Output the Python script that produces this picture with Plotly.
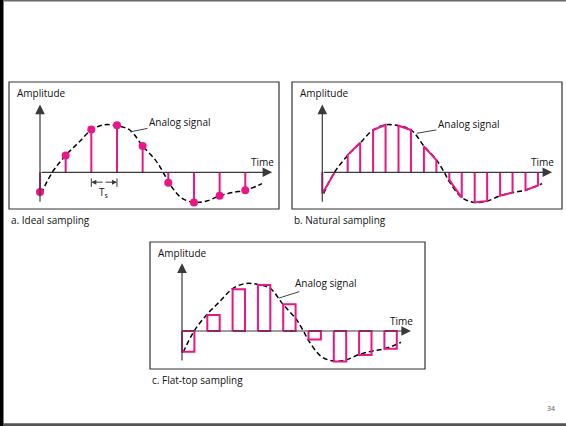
import plotly.graph_objects as go

# ---------------- data (time in sampling periods Ts, amplitude normalized) ----------------
analog_t = [0.05, 0.48, 1.0, 1.5, 2.0, 2.5, 3.0, 3.5, 4.0, 4.5, 4.8, 5.0, 5.5, 6.0, 6.5, 7.0, 7.5, 8.0, 8.5, 8.65]
analog_v = [-0.45, 0.0, 0.36, 0.63, 0.90, 1.01, 0.99, 0.90, 0.56, 0.26, 0.0, -0.20, -0.54, -0.64, -0.61, -0.50, -0.43, -0.38, -0.28, -0.24]

sample_t = [0, 1, 2, 3, 4, 5, 6, 7, 8]
ideal_v = [-0.42, 0.36, 0.91, 1.00, 0.56, -0.22, -0.64, -0.50, -0.38]
flat_v = [-0.44, 0.34, 0.89, 0.98, 0.57, -0.18, -0.65, -0.51, -0.38]
natural_start_v = [-0.45, 0.37, 0.90, 0.99, 0.55, -0.16, -0.64, -0.50, -0.38]
natural_end_v = [0.0, 0.63, 1.01, 0.90, 0.26, -0.54, -0.61, -0.43, -0.28]
pulse_width = 0.49

panel_titles = ["a. Ideal sampling", "b. Natural sampling", "c. Flat-top sampling"]

# ---------------- layout constants (pixels) ----------------
W, H = 566, 426
PINK = "#EA1586"
AXC = "#3a3a3a"
FONT = "Open Sans"

# box (x0, y0, x1, y1), origin px (ox, oy), px per Ts
panels = [
    dict(box=(9, 82, 279, 209), origin=(40, 172.3), sx=25.66),
    dict(box=(292, 82, 562, 209), origin=(322.3, 172.3), sx=25.4),
    dict(box=(150, 242, 425, 369), origin=(182, 331), sx=25.3),
]
SY = 47.0

fig = go.Figure()
layout_axes = {}
shapes = []
annotations = []

def px(x):
    return x / W

def py(y):
    return 1 - y / H

for i, p in enumerate(panels):
    x0, y0, x1, y1 = p["box"]
    ox, oy = p["origin"]
    sx = p["sx"]
    sfx = "" if i == 0 else str(i + 1)
    layout_axes["xaxis" + sfx] = dict(domain=[px(x0), px(x1)], range=[(x0 - ox) / sx, (x1 - ox) / sx],
                                      visible=False, fixedrange=True, anchor="y" + sfx)
    layout_axes["yaxis" + sfx] = dict(domain=[py(y1), py(y0)], range=[(oy - y1) / SY, (oy - y0) / SY],
                                      visible=False, fixedrange=True, anchor="x" + sfx)
    shapes.append(dict(type="rect", xref="paper", yref="paper", x0=px(x0), x1=px(x1), y0=py(y1), y1=py(y0),
                       line=dict(color="#333333", width=1.2)))
    xr, yr = "x" + sfx, "y" + sfx

    # analog dashed curve
    fig.add_trace(go.Scatter(x=analog_t, y=analog_v, mode="lines", xaxis=xr, yaxis=yr,
                             line=dict(color="black", width=1.5, dash="5px,3px", shape="spline", smoothing=1.0),
                             hoverinfo="skip", showlegend=False))

    # axes with arrows
    annotations.append(dict(x=0, y=1.44, ax=0, ay=-0.66, xref=xr, yref=yr, axref=xr, ayref=yr, text="",
                            showarrow=True, arrowhead=2, arrowsize=1.6, arrowwidth=1.2, arrowcolor=AXC))
    annotations.append(dict(x=9.05, y=0, ax=0, ay=0, xref=xr, yref=yr, axref=xr, ayref=yr, text="",
                            showarrow=True, arrowhead=2, arrowsize=1.6, arrowwidth=1.2, arrowcolor=AXC))

    # labels
    annotations.append(dict(x=px(x0 + 6), y=py(y0 + 11), xref="paper", yref="paper", text="Amplitude",
                            showarrow=False, xanchor="left", yanchor="middle",
                            font=dict(family=FONT, size=10, color="#111")))
    annotations.append(dict(x=px(ox + 9.2 * sx), y=py(oy - 10.5), xref="paper", yref="paper", text="Time",
                            showarrow=False, xanchor="right", yanchor="middle",
                            font=dict(family=FONT, size=10, color="#111")))
    annotations.append(dict(x=px(x0), y=py(y1 + 11), xref="paper", yref="paper", text=panel_titles[i],
                            showarrow=False, xanchor="left", yanchor="middle",
                            font=dict(family=FONT, size=10, color="#111")))

# leader for "Analog signal" (tip on curve, text offset in px)
leaders = [(3.51, 0.86, 50, -10), (3.72, 0.83, 52, -9), (3.83, 0.70, 47, -15)]
for i, (tx, ty, dx, dy) in enumerate(leaders):
    sfx = "" if i == 0 else str(i + 1)
    annotations.append(dict(x=tx, y=ty, xref="x" + sfx, yref="y" + sfx, ax=dx, ay=dy, text="Analog signal",
                            showarrow=True, arrowhead=0, arrowwidth=1, arrowcolor="#444",
                            font=dict(family=FONT, size=10, color="#111")))

# ---- panel a: ideal sampling ----
stem_x, stem_y = [], []
for t, v in zip(sample_t, ideal_v):
    stem_x += [t, t, None]
    stem_y += [0, v, None]
fig.add_trace(go.Scatter(x=stem_x, y=stem_y, mode="lines", xaxis="x", yaxis="y",
                         line=dict(color=PINK, width=2), hoverinfo="skip", showlegend=False))
fig.add_trace(go.Scatter(x=sample_t, y=ideal_v, mode="markers", xaxis="x", yaxis="y",
                         marker=dict(color=PINK, size=8), hoverinfo="skip", showlegend=False))
# Ts bracket between samples 2 and 3
t_a, t_b = sample_t[2], sample_t[3]
for t in (t_a, t_b):
    shapes.append(dict(type="line", xref="x", yref="y", x0=t, x1=t, y0=-0.13, y1=-0.31,
                       line=dict(color=AXC, width=1)))
tm = (t_a + t_b) / 2
for t in (t_a, t_b):
    annotations.append(dict(x=t, y=-0.21, ax=tm, ay=-0.21, xref="x", yref="y", axref="x", ayref="y", text="",
                            showarrow=True, arrowhead=2, arrowsize=1, arrowwidth=1, arrowcolor=AXC))
annotations.append(dict(x=tm, y=-0.44, xref="x", yref="y", text="T<sub>s</sub>", showarrow=False,
                        font=dict(family=FONT, size=10, color="#111")))

# ---- panel b: natural sampling ----
nx, ny = [], []
for t, v0, v1 in zip(sample_t, natural_start_v, natural_end_v):
    nx += [t, t, t + pulse_width, t + pulse_width, None]
    ny += [0, v0, v1, 0, None]
fig.add_trace(go.Scatter(x=nx, y=ny, mode="lines", xaxis="x2", yaxis="y2",
                         line=dict(color=PINK, width=2), hoverinfo="skip", showlegend=False))

# ---- panel c: flat-top sampling ----
fx, fy = [], []
for t, v in zip(sample_t, flat_v):
    fx += [t, t, t + pulse_width, t + pulse_width, t, None]
    fy += [0, v, v, 0, 0, None]
fig.add_trace(go.Scatter(x=fx, y=fy, mode="lines", xaxis="x3", yaxis="y3",
                         line=dict(color=PINK, width=2), hoverinfo="skip", showlegend=False))

# slide frame
shapes.append(dict(type="rect", xref="paper", yref="paper", x0=0, x1=px(3.5), y0=0, y1=1,
                   fillcolor="black", line=dict(width=0), layer="above"))
shapes.append(dict(type="rect", xref="paper", yref="paper", x0=0, x1=1, y0=py(1.5), y1=1,
                   fillcolor="#6a6a6a", line=dict(width=0), layer="above"))
shapes.append(dict(type="rect", xref="paper", yref="paper", x0=0, x1=1, y0=0, y1=py(423.3),
                   fillcolor="#555555", line=dict(width=0), layer="above"))
annotations.append(dict(x=px(557), y=py(415), xref="paper", yref="paper", text="34", showarrow=False,
                        font=dict(family=FONT, size=7, color="#555")))

fig.update_layout(width=W, height=H, margin=dict(l=0, r=0, t=0, b=0),
                  paper_bgcolor="white", plot_bgcolor="rgba(0,0,0,0)",
                  shapes=shapes, annotations=annotations, **layout_axes)

post = (
    "document.body.style.margin='0';document.body.style.overflow='hidden';"
    "var d=document.createElement('div');"
    "d.style.cssText='position:fixed;left:0;top:0;width:3px;height:100%;background:#000;z-index:10;pointer-events:none';"
    "document.body.appendChild(d);"
)
fig.write_html("out.html", config={"displayModeBar": False, "staticPlot": True}, post_script=post)
